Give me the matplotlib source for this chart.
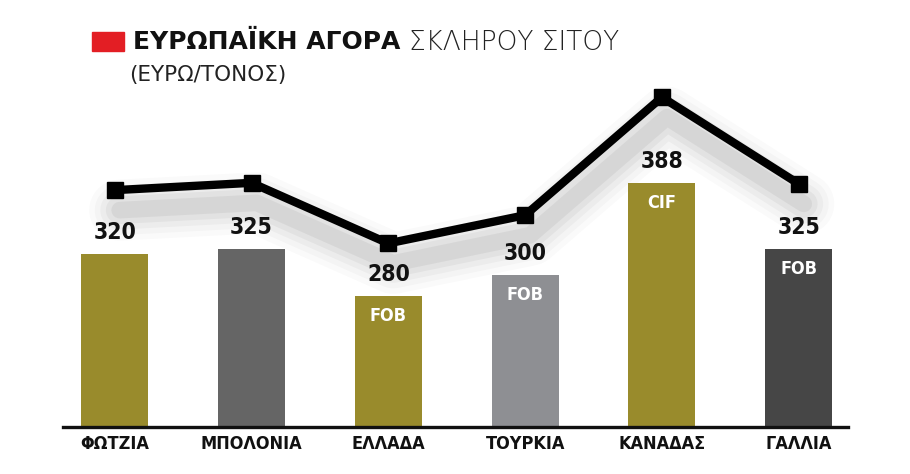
import matplotlib
matplotlib.use("Agg")
import matplotlib.pyplot as plt
from matplotlib import font_manager as fm
from matplotlib.transforms import ScaledTranslation
from matplotlib.patches import Rectangle

# ---- data ----
categories = ["ΦΩΤΖΙΑ", "ΜΠΟΛΟΝΙΑ", "ΕΛΛΑΔΑ", "ΤΟΥΡΚΙΑ", "ΚΑΝΑΔΑΣ", "ΓΑΛΛΙΑ"]
prices = [320, 325, 280, 300, 388, 325]
terms = ["", "", "FOB", "FOB", "CIF", "FOB"]
trend = [381, 388, 330, 357, 470, 387]   # decorative trend line (same units)
bar_colors = ["#998b2c", "#656565", "#998b2c", "#8e8f93", "#998b2c", "#464646"]

title_bold = "ΕΥΡΩΠΑΪΚΗ ΑΓΟΡΑ"
title_light = "ΣΚΛΗΡΟΥ ΣΙΤΟΥ"
subtitle = "(ΕΥΡΩ/ΤΟΝΟΣ)"

# choose narrowest available font
entries = fm.fontManager.ttflist
names = {f.name for f in entries}
NARROW = dict(family=["DejaVu Sans"], fontstretch="normal")
if "Liberation Sans Narrow" in names:
    NARROW = dict(family=["Liberation Sans Narrow", "DejaVu Sans"], fontstretch="normal")
elif "DejaVu Sans Condensed" in names:
    NARROW = dict(family=["DejaVu Sans Condensed", "DejaVu Sans"], fontstretch="normal")
elif any(f.name == "DejaVu Sans" and str(f.stretch) in ("condensed", "semi-condensed", "500", "300")
         for f in entries):
    NARROW = dict(family=["DejaVu Sans"], fontstretch="condensed")
elif "Roboto" in names:
    NARROW = dict(family=["Roboto", "DejaVu Sans"], fontstretch="normal")

W, H = 910, 474
fig = plt.figure(figsize=(W / 100, H / 100), dpi=100)
fig.patch.set_facecolor("white")

def px(x0, y0, x1, y1):
    return [x0 / W, 1 - y1 / H, (x1 - x0) / W, (y1 - y0) / H]

ax = fig.add_axes(px(63, 80, 848, 426.5))
ax.set_xlim(-0.378, 5.36)
ax.set_ylim(154.6, 486.5)

x = list(range(len(categories)))
bars = ax.bar(x, prices, width=0.49, color=bar_colors, zorder=2)

# soft shadow of the trend line
for w, a in [(44, 0.02), (36, 0.025), (28, 0.03), (20, 0.04), (12, 0.05)]:
    tr = ax.transData + ScaledTranslation(0.05, -0.2, fig.dpi_scale_trans)
    ax.plot(x, trend, color="black", lw=w, alpha=a, transform=tr,
            solid_capstyle="round", solid_joinstyle="round", zorder=1)

ax.plot(x, trend, color="black", lw=6, marker="s", markersize=11.5,
        solid_joinstyle="miter", zorder=4)

for xi, v, t in zip(x, prices, terms):
    ax.annotate(str(v), (xi, v), xytext=(0, 7), textcoords="offset points",
                ha="center", va="bottom", fontsize=16.5, fontweight="bold",
                color="#111111", zorder=5, **NARROW)
    if t:
        ax.annotate(t, (xi, v), xytext=(0, -8), textcoords="offset points",
                    ha="center", va="top", fontsize=13, fontweight="bold",
                    color="white", zorder=5, **NARROW)

for s in ["top", "right", "left"]:
    ax.spines[s].set_visible(False)
ax.spines["bottom"].set_linewidth(2.4)
ax.spines["bottom"].set_color("#111111")
ax.set_yticks([])
ax.set_xticks(x)
ax.set_xticklabels(categories, fontweight="bold", fontsize=13, color="#111111", **NARROW)
ax.tick_params(axis="x", length=0, pad=6)

# ---- title ----
fig.patches.append(Rectangle((92 / W, 1 - 51 / H), 32 / W, 19 / H,
                             transform=fig.transFigure, color="#e31e24"))
t1 = fig.text(133 / W, 1 - 42 / H, title_bold, fontsize=18, fontweight="heavy",
              family="DejaVu Sans", color="#111111", va="center", ha="left")
fig.canvas.draw()
bb = t1.get_window_extent()
fig.text((bb.x1 + 9) / W, 1 - 42 / H, title_light, fontsize=19,
         family="DejaVu Sans", color="#222222", va="center", ha="left",
         fontweight="light")
fig.text(129 / W, 1 - 75 / H, subtitle, fontsize=15.5, family="DejaVu Sans",
         color="#222222", va="center", ha="left")

fig.savefig("out.png", dpi=100, facecolor="white")
